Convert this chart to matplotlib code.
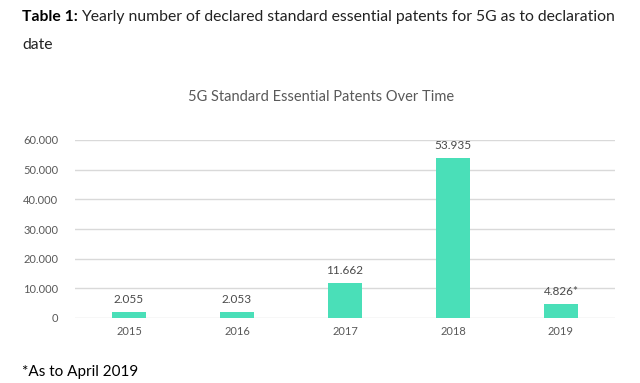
import matplotlib
matplotlib.use("Agg")
import matplotlib.pyplot as plt
from matplotlib.ticker import FuncFormatter

years = ["2015", "2016", "2017", "2018", "2019"]
patents = [2055, 2053, 11662, 53935, 4826]
value_labels = ["2.055", "2.053", "11.662", "53.935", "4.826*"]
y_ticks = [0, 10000, 20000, 30000, 40000, 50000, 60000]

plt.rcParams['font.family'] = ['Lato', 'DejaVu Sans']

fig = plt.figure(figsize=(6.4, 3.83), dpi=100)
W, H = 640, 383
ax = fig.add_axes([75 / W, (H - 318) / H, 540 / W, 178 / H])

gray = "#595959"
x = range(len(years))
bars = ax.bar(x, patents, width=0.31, color="#4ADFB8", zorder=3)

for b, lab in zip(bars, value_labels):
    ax.annotate(lab, (b.get_x() + b.get_width() / 2, b.get_height()),
                xytext=(0, 5), textcoords="offset points",
                ha="center", va="bottom", fontsize=8.5, color="#4a4a4a")

ax.set_xlim(-0.5, len(years) - 0.5)
ax.set_ylim(0, 60000)
ax.set_yticks(y_ticks)
ax.yaxis.set_major_formatter(FuncFormatter(lambda v, p: "0" if v == 0 else f"{int(v):,}".replace(",", ".")))
ax.set_xticks(list(x))
ax.set_xticklabels(years)
ax.tick_params(axis="both", length=0, labelsize=8, labelcolor=gray)
ax.tick_params(axis="y", pad=12)
ax.tick_params(axis="x", pad=6)
ax.grid(axis="y", color="#D9D9D9", linewidth=1, zorder=0)
for s in ax.spines.values():
    s.set_visible(False)

fig.text(22 / W, 1 - 17 / H, "Table 1:", fontsize=11.3, fontweight="bold", va="center", ha="left", color="black")
fig.text(81 / W, 1 - 17 / H, "Yearly number of declared standard essential patents for 5G as to declaration",
         fontsize=11.3, va="center", ha="left", color="#222222")
fig.text(22 / W, 1 - 45 / H, "date", fontsize=11.3, va="center", ha="left", color="#222222")
fig.text(321 / W, 1 - 97 / H, "5G Standard Essential Patents Over Time", fontsize=10.5,
         va="center", ha="center", color=gray)
fig.text(22 / W, 1 - 372 / H, "*As to April 2019", fontsize=11, va="center", ha="left", color="black")

fig.savefig("out.png", dpi=100)
